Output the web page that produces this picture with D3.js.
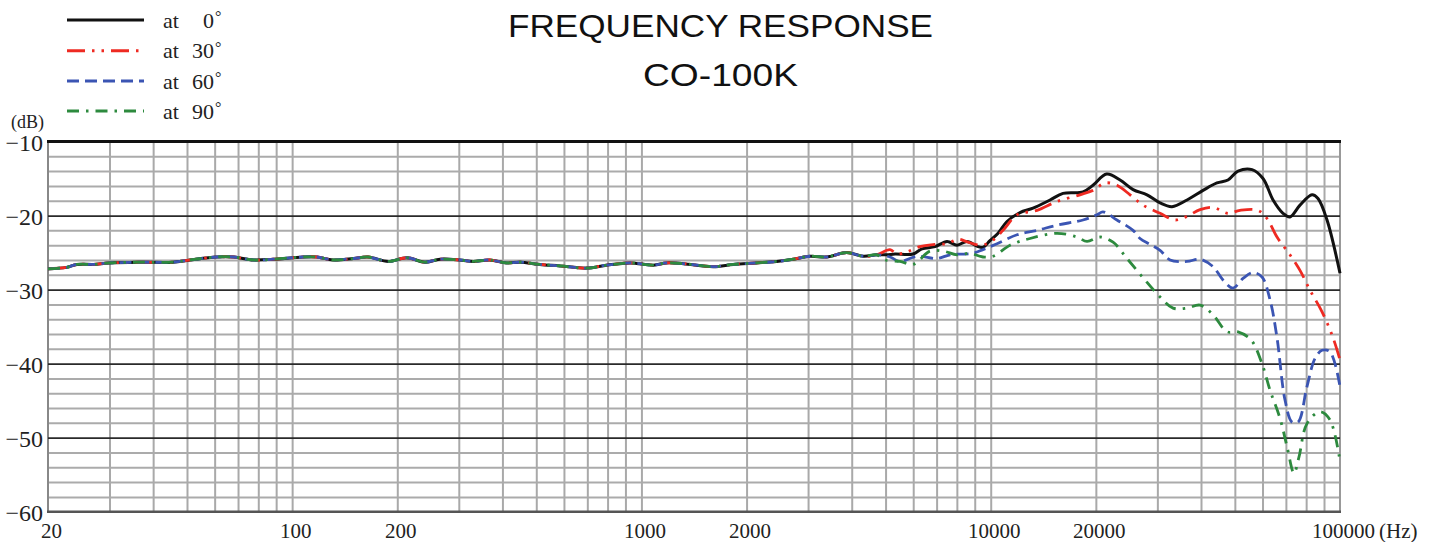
<!DOCTYPE html>
<html>
<head>
<meta charset="utf-8">
<script src="https://cdn.jsdelivr.net/npm/d3@7"></script>
<style>
  body { margin: 0; background: #fff; }
  svg { display: block; }
  .serif { font-family: "Liberation Serif", "DejaVu Serif", serif; fill: #222; }
</style>
</head>
<body>
<div id="chart"></div>
<script>
// shared low-frequency part, all four angles lie on top of each other
var baseFreq = [20, 22.6, 24.2, 27, 30, 36.7, 45.6, 51, 60.8, 68, 77.4, 88.3, 107.6, 117.6, 131, 150, 165, 188.5,
                213, 240, 265, 302, 330, 368, 411, 449, 512, 585, 697, 796, 928, 1082, 1181, 1318, 1606, 1832,
                2138, 2440, 2722, 3040, 3393, 3870, 4318, 4718];
var baseDb = [-27.2, -27.0, -26.6, -26.6, -26.4, -26.3, -26.3, -26.0, -25.6, -25.6, -26.0, -25.9, -25.6, -25.6, -26.0, -25.8, -25.6, -26.2,
              -25.7, -26.3, -25.9, -26.0, -26.2, -26.0, -26.4, -26.3, -26.6, -26.8, -27.1, -26.7, -26.4, -26.7, -26.4, -26.5, -26.9, -26.6,
              -26.4, -26.2, -25.9, -25.5, -25.6, -25.0, -25.5, -25.3];

// at 0°
var freq0 = [5037, 5322, 5992, 6358, 6927, 7498, 8010, 8554, 9196, 9504, 9953, 10496, 11134, 12132, 13216, 14784, 16106, 18376, 19626, 21481,
             23460, 25560, 28020, 30540, 33040, 36480, 40540, 44440, 47780, 51060, 56000, 60200, 64320, 68680, 71900, 76820, 83160, 86500, 91800, 100000];
var db0 = [-25.3, -25.2, -25.2, -24.5, -24.2, -23.5, -24.0, -23.5, -24.2, -24.3, -23.4, -22.4, -20.8, -19.6, -19.0, -17.9, -17.0, -16.8, -15.9, -14.4,
           -15.2, -16.5, -17.2, -18.3, -18.8, -17.9, -16.6, -15.6, -15.2, -14.0, -13.8, -15.0, -17.9, -19.7, -20.2, -18.6, -17.2, -17.7, -20.6, -27.8];

// at 30°
var freq30 = [5148, 5392, 5760, 6272, 6927, 7498, 8060, 8610, 9318, 9953, 10848, 11894, 13570, 15480, 18012, 19626, 21240, 22980,
              25060, 27300, 30540, 33700, 36480, 39740, 43300, 47780, 51720, 58240, 61800, 66020, 71900, 76820, 82080, 88840, 95500, 100000];
var db30 = [-24.6, -25.2, -24.9, -24.2, -23.9, -23.8, -23.2, -23.6, -24.0, -23.6, -22.0, -19.9, -19.3, -18.1, -17.2, -16.6, -15.6, -15.9,
            -17.2, -18.6, -19.7, -20.6, -20.1, -19.2, -18.9, -19.7, -19.3, -19.3, -20.4, -22.9, -25.3, -27.4, -30.1, -33.0, -36.5, -39.5];

// at 60°
var freq60 = [5148, 5498, 6152, 7020, 7646, 8898, 9504, 10424, 11894, 13570, 15480, 18376, 20150, 20960, 22980, 25560, 26760, 28580, 30540,
              32620, 36480, 39740, 43300, 46240, 49400, 52760, 56360, 59800, 63060, 66020, 69580, 72880, 75840, 80440, 84820, 88840, 93620, 100000];
var db60 = [-25.6, -26.2, -25.5, -25.8, -25.3, -25.1, -24.6, -23.8, -22.6, -22.0, -21.3, -20.6, -19.9, -19.5, -20.6, -22.0, -23.1, -23.9, -24.7,
            -26.0, -26.2, -25.9, -26.9, -28.7, -29.8, -28.5, -27.7, -28.3, -31.4, -36.5, -44.9, -47.9, -47.9, -43.1, -39.3, -38.2, -38.4, -43.1];

// at 90°
var freq90 = [4980, 5498, 5992, 6702, 7302, 8010, 8722, 9504, 10152, 11358, 12956, 15480, 17660, 18868, 20560, 22400, 24560, 27300,
              30540, 33260, 36480, 39740, 43300, 47500, 51060, 55640, 59800, 63060, 67340, 70520, 73840, 76320, 80440, 87700, 93620, 100000];
var db90 = [-26.0, -26.2, -26.6, -24.8, -24.8, -25.3, -25.1, -25.6, -25.5, -24.0, -23.1, -22.4, -22.9, -23.5, -22.9, -23.6, -25.8, -28.4,
            -31.0, -32.5, -32.5, -32.1, -33.4, -35.7, -35.7, -36.8, -40.0, -43.6, -47.4, -51.2, -54.8, -52.6, -48.1, -46.5, -47.6, -53.2];

var seriesNames = ["0", "30", "60", "90"];
var xTickLabels = [20, 100, 200, 1000, 2000, 10000, 20000, 100000];
var yTickLabels = [-10, -20, -30, -40, -50, -60];

var W = 1439, H = 542;
var pLeft = 48, pRight = 1340, pTop = 141.5, pBottom = 511.7;

var x = d3.scaleLog().domain([20, 100000]).range([pLeft, pRight]);
var y = d3.scaleLinear().domain([-60, -10]).range([pBottom, pTop]);

var svg = d3.select("#chart").append("svg")
    .attr("width", W)
    .attr("height", H);

// vertical grid: 1..9 per decade
var gridFreqs = [];
[10, 100, 1000, 10000].forEach(function(d) {
  for (var k = 1; k <= 9; k++) {
    var f = k * d;
    if (f > 20 && f < 100000) gridFreqs.push(f);
  }
});

svg.append("g")
    .attr("transform", "translate(0," + pBottom + ")")
    .call(d3.axisBottom(x).tickValues(gridFreqs).tickSize(-(pBottom - pTop)).tickFormat(""))
    .call(function(g) { g.select(".domain").remove(); })
    .selectAll("line")
    .attr("stroke", "#a9a9a9")
    .attr("stroke-width", 2);

// minor horizontal grid every 2 dB
var minorDb = d3.range(-58, -10, 2).filter(function(v) { return v % 10 !== 0; });
svg.append("g")
    .attr("transform", "translate(" + pLeft + ",0)")
    .call(d3.axisLeft(y).tickValues(minorDb).tickSize(-(pRight - pLeft)).tickFormat(""))
    .call(function(g) { g.select(".domain").remove(); })
    .selectAll("line")
    .attr("stroke", "#ababab")
    .attr("stroke-width", 2);

// left and right frame
svg.append("line").attr("x1", pLeft).attr("x2", pLeft).attr("y1", pTop).attr("y2", pBottom)
    .attr("stroke", "#888").attr("stroke-width", 2);
svg.append("line").attr("x1", pRight).attr("x2", pRight).attr("y1", pTop).attr("y2", pBottom)
    .attr("stroke", "#999").attr("stroke-width", 2);

// major horizontal lines
svg.append("g")
    .attr("transform", "translate(" + pLeft + ",0)")
    .call(d3.axisLeft(y).tickValues([-20, -30, -40, -50]).tickSize(-(pRight - pLeft)).tickFormat(""))
    .call(function(g) { g.select(".domain").remove(); })
    .selectAll("line")
    .attr("stroke", "#2a2a2a")
    .attr("stroke-width", 1.8);

svg.append("line").attr("x1", pLeft - 1).attr("x2", pRight + 1).attr("y1", pTop).attr("y2", pTop)
    .attr("stroke", "#111").attr("stroke-width", 3);
svg.append("line").attr("x1", pLeft - 1).attr("x2", pRight + 1).attr("y1", pBottom).attr("y2", pBottom)
    .attr("stroke", "#555").attr("stroke-width", 2.5);

// curves
var line = d3.line()
    .x(function(d) { return x(d[0]); })
    .y(function(d) { return y(d[1]); })
    .curve(d3.curveCatmullRom.alpha(0.5));

function join(fs, ds) {
  var pts = baseFreq.map(function(f, i) { return [f, baseDb[i]]; });
  return pts.concat(fs.map(function(f, i) { return [f, ds[i]]; }));
}

var curves = [
  { name: "0",  pts: join(freq0, db0),   color: "#111111", dash: null,               width: 3 },
  { name: "30", pts: join(freq30, db30), color: "#ee2a22", dash: "18,7,2.5,7,2.5,7", width: 2.8 },
  { name: "60", pts: join(freq60, db60), color: "#3b55b3", dash: "12,6",             width: 2.8 },
  { name: "90", pts: join(freq90, db90), color: "#2d8a3e", dash: "12,7,2.5,7",       width: 2.8 }
];

curves.forEach(function(c) {
  svg.append("path")
      .attr("d", line(c.pts))
      .attr("fill", "none")
      .attr("stroke", c.color)
      .attr("stroke-width", c.width)
      .attr("stroke-dasharray", c.dash)
      .attr("stroke-linejoin", "round");
});

// y labels
svg.append("g")
    .attr("transform", "translate(" + pLeft + ",0)")
    .call(d3.axisLeft(y).tickValues(yTickLabels).tickSize(0).tickPadding(5).tickFormat(d3.format("d")))
    .call(function(g) { g.select(".domain").remove(); })
    .selectAll("text")
    .attr("class", "serif")
    .attr("dy", 9)
    .style("font-size", "24px");

// x labels
svg.append("g")
    .attr("transform", "translate(0," + pBottom + ")")
    .call(d3.axisBottom(x).tickValues(xTickLabels).tickSize(0).tickFormat(d3.format("d")))
    .call(function(g) { g.select(".domain").remove(); })
    .selectAll("text")
    .attr("class", "serif")
    .attr("x", 3)
    .attr("y", 26)
    .attr("dy", 0)
    .style("font-size", "21px");

svg.append("text").attr("class", "serif")
    .attr("x", 1379).attr("y", 537.7)
    .style("font-size", "21px")
    .text("(Hz)");

svg.append("text").attr("class", "serif")
    .attr("x", 11).attr("y", 128)
    .style("font-size", "18px")
    .text("(dB)");

// legend
var legendY = [20, 50.7, 81, 111];
curves.forEach(function(c, i) {
  svg.append("line")
      .attr("x1", 67).attr("x2", 144)
      .attr("y1", legendY[i]).attr("y2", legendY[i])
      .attr("stroke", c.color)
      .attr("stroke-width", 3)
      .attr("stroke-dasharray", c.dash);
  svg.append("text").attr("class", "serif")
      .attr("x", 163).attr("y", legendY[i] + 7.5)
      .style("font-size", "22px")
      .text("at");
  svg.append("text").attr("class", "serif")
      .attr("x", 214).attr("y", legendY[i] + 7.5)
      .attr("text-anchor", "end")
      .style("font-size", "22px")
      .text(seriesNames[i]);
  svg.append("text").attr("class", "serif")
      .attr("x", 215).attr("y", legendY[i] + 2)
      .style("font-size", "16px")
      .text("°");
});

// title
svg.append("text")
    .attr("x", 720.5).attr("y", 37)
    .attr("text-anchor", "middle")
    .attr("textLength", 425)
    .attr("lengthAdjust", "spacingAndGlyphs")
    .style("font-family", "'Liberation Sans', Arial, sans-serif")
    .style("font-size", "31px")
    .style("fill", "#111")
    .text("FREQUENCY RESPONSE");

svg.append("text")
    .attr("x", 720.5).attr("y", 86)
    .attr("text-anchor", "middle")
    .attr("textLength", 155)
    .attr("lengthAdjust", "spacingAndGlyphs")
    .style("font-family", "'Liberation Sans', Arial, sans-serif")
    .style("font-size", "31px")
    .style("fill", "#111")
    .text("CO-100K");
</script>
</body>
</html>
